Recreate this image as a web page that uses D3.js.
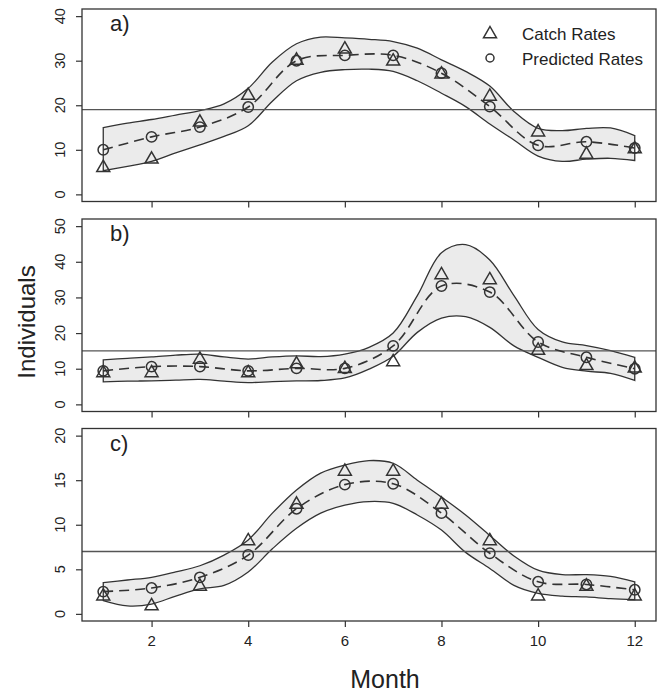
<!DOCTYPE html>
<html><head><meta charset="utf-8">
<script src="https://cdn.jsdelivr.net/npm/d3@7"></script>
<style>
html,body{margin:0;padding:0;background:#fff;}
svg{display:block;}
text{font-family:"Liberation Sans",Arial,Helvetica,sans-serif;fill:#222;}
</style></head>
<body>
<svg id="chart" width="661" height="693"></svg>
<script>
// ---------- data ----------
const months = [1,2,3,4,5,6,7,8,9,10,11,12];
const bandMonths = [1,1.5,2,2.5,3,3.5,4,4.5,5,5.5,6,6.5,7,7.5,8,8.5,9,9.5,10,10.5,11,11.5,12];
const xTicks = [2,4,6,8,10,12];

// panel a
const catchA = [6.2, 8.1, 16.4, 22.4, 30.3, 32.8, 30.1, 27.2, 22.2, 14.2, 9.2, 10.4];
const predA  = [10.0, 12.9, 15.1, 19.6, 30.0, 31.2, 31.2, 27.2, 19.7, 11.0, 11.8, 10.4];
const upperA = [15.0,16.0,16.8,17.8,18.8,20.3,23.8,29.7,33.8,35.3,35.1,34.8,34.3,32.8,30.2,27.6,24.3,18.6,14.8,14.3,14.8,14.9,13.2];
const lowerA = [5.3,6.3,7.4,9.3,11.1,13.0,15.4,20.9,25.5,27.4,28.0,28.1,27.6,25.5,22.7,19.7,15.8,12.2,8.6,7.4,7.9,8.1,7.6];
const hlineA = 19;
const yTicksA = [0,10,20,30,40];

// panel b
const catchB = [9.1, 9.1, 12.9, 9.1, 11.6, 10.3, 12.2, 36.6, 35.2, 15.4, 11.1, 10.4];
const predB  = [9.4, 10.6, 10.6, 9.4, 10.1, 10.1, 16.4, 33.2, 31.5, 17.5, 13.2, 10.0];
const upperB = [12.5,12.9,13.3,13.8,14.1,13.3,12.7,13.3,13.6,13.4,14.1,16.0,20.0,30.5,42.5,44.8,40.5,30.5,21.0,17.5,16.5,15.1,13.2];
const lowerB = [6.3,6.5,6.6,6.8,7.0,6.5,6.1,6.4,6.6,6.7,7.4,9.9,13.5,20.2,24.2,24.6,21.6,16.4,13.2,10.4,9.3,8.7,6.7];
const hlineB = 15;
const yTicksB = [0,10,20,30,40,50];

// panel c
const catchC = [2.1, 1.0, 3.2, 8.3, 12.4, 16.1, 16.1, 12.4, 8.3, 2.1, 3.2, 2.1];
const predC  = [2.5, 2.9, 4.1, 6.6, 11.8, 14.5, 14.6, 11.3, 6.8, 3.6, 3.3, 2.7];
const upperC = [3.5,3.8,4.1,4.7,5.4,6.6,8.3,11.3,13.9,15.8,16.7,17.2,16.9,15.0,13.1,11.1,8.8,6.5,4.9,4.4,4.4,4.2,3.6];
const lowerC = [1.5,0.9,1.1,2.0,2.8,3.2,4.7,7.3,9.6,11.3,12.2,12.6,12.4,11.1,9.4,6.9,5.1,3.2,2.3,2.0,1.9,1.7,1.6];
const hlineC = 7;
const yTicksC = [0,5,10,15,20];

const panels = [
  {label:"a)", catchR:catchA, pred:predA, upper:upperA, lower:lowerA, hline:hlineA, yTicks:yTicksA, ymax:40, top:9},
  {label:"b)", catchR:catchB, pred:predB, upper:upperB, lower:lowerB, hline:hlineB, yTicks:yTicksB, ymax:50, top:219},
  {label:"c)", catchR:catchC, pred:predC, upper:upperC, lower:lowerC, hline:hlineC, yTicks:yTicksC, ymax:20, top:428.5}
];

// ---------- layout ----------
const svg = d3.select("#chart");
const left = 82, right = 656, ph = 192.5;
const lineCol = "#333";
const x = d3.scaleLinear().domain([1 - 0.44, 12 + 0.44]).range([left, right]);

const triPath = "M0,-6.5L6.5,4.8L-6.5,4.8Z";

panels.forEach((p, i) => {
  const ext = p.ymax * 0.04;
  const y = d3.scaleLinear().domain([-ext, p.ymax + ext]).range([p.top + ph, p.top]);
  const g = svg.append("g");

  // band
  const area = d3.area()
    .x((d, k) => x(bandMonths[k]))
    .y0((d, k) => y(p.lower[k]))
    .y1((d, k) => y(p.upper[k]))
    .curve(d3.curveCatmullRom.alpha(0.5));
  g.append("path").datum(bandMonths).attr("d", area)
    .attr("fill", "#ebebeb").attr("stroke", lineCol).attr("stroke-width", 1.3);

  // horizontal reference line
  g.append("line").attr("x1", left).attr("x2", right)
    .attr("y1", y(p.hline)).attr("y2", y(p.hline))
    .attr("stroke", "#555").attr("stroke-width", 1.3);

  // dashed fitted line
  const line = d3.line().x((d, k) => x(months[k])).y(d => y(d)).curve(d3.curveCatmullRom.alpha(0.5));
  g.append("path").datum(p.pred).attr("d", line)
    .attr("fill", "none").attr("stroke", lineCol).attr("stroke-width", 1.6)
    .attr("stroke-dasharray", "10,6");

  // markers
  g.selectAll(".tri").data(p.catchR).enter().append("path")
    .attr("d", triPath)
    .attr("transform", (d, k) => `translate(${x(months[k])},${y(d)})`)
    .attr("fill", "none").attr("stroke", lineCol).attr("stroke-width", 1.5);
  g.selectAll(".cir").data(p.pred).enter().append("circle")
    .attr("cx", (d, k) => x(months[k])).attr("cy", d => y(d)).attr("r", 5.2)
    .attr("fill", "none").attr("stroke", lineCol).attr("stroke-width", 1.5);

  // frame
  g.append("rect").attr("x", left).attr("y", p.top).attr("width", right - left).attr("height", ph)
    .attr("fill", "none").attr("stroke", lineCol).attr("stroke-width", 1.3);

  // y axis
  const yAxis = d3.axisLeft(y).tickValues(p.yTicks).tickSize(6).tickFormat("");
  const ya = g.append("g").attr("transform", `translate(${left},0)`).call(yAxis);
  ya.select(".domain").remove();
  ya.selectAll("line").attr("stroke", lineCol).attr("stroke-width", 1.2);
  g.selectAll(".ylab").data(p.yTicks).enter().append("text")
    .attr("transform", d => `translate(64.5,${y(d)}) rotate(-90)`)
    .attr("text-anchor", "middle").attr("font-size", 14.5).text(d => d);

  // x axis
  const xAxis = d3.axisBottom(x).tickValues(xTicks).tickSize(6).tickFormat("");
  const xa = g.append("g").attr("transform", `translate(0,${p.top + ph})`).call(xAxis);
  xa.select(".domain").remove();
  xa.selectAll("line").attr("stroke", lineCol).attr("stroke-width", 1.2);
  if (i === 2) {
    g.selectAll(".xlab").data(xTicks).enter().append("text")
      .attr("x", d => x(d)).attr("y", p.top + ph + 25)
      .attr("text-anchor", "middle").attr("font-size", 15).text(d => d);
  }

  // panel label
  g.append("text").attr("x", 110).attr("y", p.top + 22).attr("font-size", 22).text(p.label);
});

// legend
const leg = svg.append("g");
leg.append("path").attr("d", triPath).attr("transform", "translate(490,33)")
  .attr("fill", "none").attr("stroke", lineCol).attr("stroke-width", 1.5);
leg.append("circle").attr("cx", 490).attr("cy", 58).attr("r", 4)
  .attr("fill", "none").attr("stroke", lineCol).attr("stroke-width", 1.5);
leg.append("text").attr("x", 522).attr("y", 39.5).attr("font-size", 17).text("Catch Rates");
leg.append("text").attr("x", 522).attr("y", 64.5).attr("font-size", 17).text("Predicted Rates");

// axis titles
svg.append("text").attr("x", 385).attr("y", 688).attr("text-anchor", "middle")
  .attr("font-size", 25).text("Month");
svg.append("text").attr("transform", "translate(35,322) rotate(-90)")
  .attr("text-anchor", "middle").attr("font-size", 24).text("Individuals");
</script>
</body></html>
